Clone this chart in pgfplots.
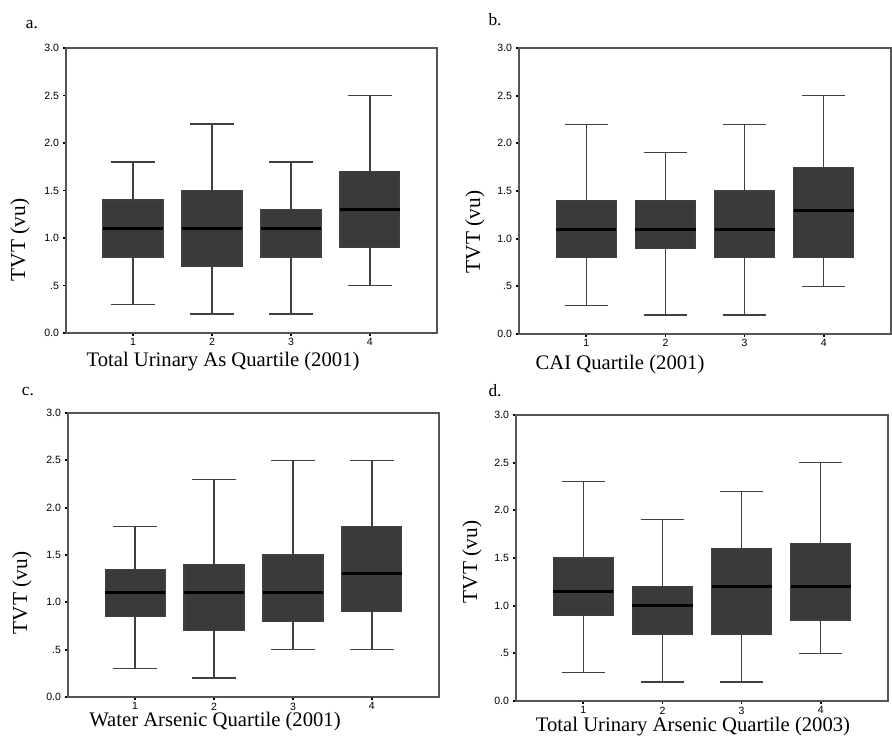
\documentclass[border=0pt]{standalone}
\usepackage{pgfplots}
\pgfplotsset{compat=1.18}
\usepgfplotslibrary{statistics}
\usepackage{fontspec}
\setmainfont{Liberation Serif}
\newfontfamily\tickfont{Liberation Sans}

\definecolor{boxfill}{HTML}{3A3A3A}
\definecolor{frame}{HTML}{555555}

\pgfplotsset{
  panel/.style={
    scale only axis,
    xmin=0.15, xmax=4.85,
    ymin=0, ymax=3,
    xtick={1,2,3,4},
    ytick={0,0.5,1,1.5,2,2.5,3},
    yticklabels={0.0,.5,1.0,1.5,2.0,2.5,3.0},
    xticklabels={1,2,3,4},
    xtick pos=bottom, ytick pos=left,
    tick align=outside,
    major tick length=2.2pt,
    every tick/.style={black, line width=1.3pt},
    tick label style={font=\tickfont\fontsize{7.9}{9}\selectfont},
    xticklabel style={yshift=1.5pt},
    yticklabel style={xshift=0.5pt},
    axis line style={draw=frame, line width=0.8pt},
    boxplot/draw direction=y,
    boxplot/box extend=0.76,
    boxplot/whisker extend=0.55,
    boxplot/every median/.style={black, line width=2.3pt},
  },
  bx/.style={boxplot prepared, draw=black!75, line width=0.9pt, fill=boxfill},
}

\begin{document}
\begin{tikzpicture}
\path[use as bounding box] (0,0) rectangle (669pt,-555.75pt);

% a.
\begin{axis}[panel, at={(49.5pt,-249.75pt)}, anchor=south west, width=278.25pt, height=213.75pt]
\addplot[bx, boxplot prepared={draw position=1, lower whisker=0.3, lower quartile=0.8, median=1.1, upper quartile=1.4, upper whisker=1.8}] coordinates {};
\addplot[bx, boxplot prepared={draw position=2, lower whisker=0.2, lower quartile=0.7, median=1.1, upper quartile=1.5, upper whisker=2.2}] coordinates {};
\addplot[bx, boxplot prepared={draw position=3, lower whisker=0.2, lower quartile=0.8, median=1.1, upper quartile=1.3, upper whisker=1.8}] coordinates {};
\addplot[bx, boxplot prepared={draw position=4, lower whisker=0.5, lower quartile=0.9, median=1.3, upper quartile=1.7, upper whisker=2.5}] coordinates {};
\end{axis}

% b.
\begin{axis}[panel, at={(389.25pt,-250.5pt)}, anchor=south west, width=279pt, height=214.5pt]
\addplot[bx, boxplot prepared={draw position=1, lower whisker=0.3, lower quartile=0.8, median=1.1, upper quartile=1.4, upper whisker=2.2}] coordinates {};
\addplot[bx, boxplot prepared={draw position=2, lower whisker=0.2, lower quartile=0.9, median=1.1, upper quartile=1.4, upper whisker=1.9}] coordinates {};
\addplot[bx, boxplot prepared={draw position=3, lower whisker=0.2, lower quartile=0.8, median=1.1, upper quartile=1.5, upper whisker=2.2}] coordinates {};
\addplot[bx, boxplot prepared={draw position=4, lower whisker=0.5, lower quartile=0.8, median=1.3, upper quartile=1.75, upper whisker=2.5}] coordinates {};
\end{axis}

% c.
\begin{axis}[panel, at={(51pt,-522.75pt)}, anchor=south west, width=278.25pt, height=213pt]
\addplot[bx, boxplot prepared={draw position=1, lower whisker=0.3, lower quartile=0.85, median=1.1, upper quartile=1.35, upper whisker=1.8}] coordinates {};
\addplot[bx, boxplot prepared={draw position=2, lower whisker=0.2, lower quartile=0.7, median=1.1, upper quartile=1.4, upper whisker=2.3}] coordinates {};
\addplot[bx, boxplot prepared={draw position=3, lower whisker=0.5, lower quartile=0.8, median=1.1, upper quartile=1.5, upper whisker=2.5}] coordinates {};
\addplot[bx, boxplot prepared={draw position=4, lower whisker=0.5, lower quartile=0.9, median=1.3, upper quartile=1.8, upper whisker=2.5}] coordinates {};
\end{axis}

% d.
\begin{axis}[panel, at={(387pt,-525.75pt)}, anchor=south west, width=279pt, height=214.5pt]
\addplot[bx, boxplot prepared={draw position=1, lower whisker=0.3, lower quartile=0.9, median=1.15, upper quartile=1.5, upper whisker=2.3}] coordinates {};
\addplot[bx, boxplot prepared={draw position=2, lower whisker=0.2, lower quartile=0.7, median=1.0, upper quartile=1.2, upper whisker=1.9}] coordinates {};
\addplot[bx, boxplot prepared={draw position=3, lower whisker=0.2, lower quartile=0.7, median=1.2, upper quartile=1.6, upper whisker=2.2}] coordinates {};
\addplot[bx, boxplot prepared={draw position=4, lower whisker=0.5, lower quartile=0.85, median=1.2, upper quartile=1.65, upper whisker=2.5}] coordinates {};
\end{axis}

% panel letters
\node[font=\fontsize{13}{15}\selectfont] at (24pt,-18.75pt) {a.};
\node[font=\fontsize{13}{15}\selectfont] at (371.25pt,-15pt) {b.};
\node[font=\fontsize{13}{15}\selectfont] at (21pt,-294pt) {c.};
\node[font=\fontsize{13}{15}\selectfont] at (371.25pt,-293.25pt) {d.};

% y labels
\node[rotate=90, font=\fontsize{16}{18}\selectfont] at (15pt,-180pt) {TVT (vu)};
\node[rotate=90, font=\fontsize{16}{18}\selectfont] at (356.25pt,-174pt) {TVT (vu)};
\node[rotate=90, font=\fontsize{16}{18}\selectfont] at (16.5pt,-444.75pt) {TVT (vu)};
\node[rotate=90, font=\fontsize{16}{18}\selectfont] at (354pt,-421.5pt) {TVT (vu)};

% x labels
\node[font=\fontsize{15.5}{18}\selectfont] at (167.25pt,-271pt) {Total Urinary As Quartile (2001)};
\node[font=\fontsize{15.5}{18}\selectfont] at (465pt,-273.5pt) {CAI Quartile (2001)};
\node[font=\fontsize{15.5}{18}\selectfont] at (161.25pt,-541.5pt) {Water Arsenic Quartile (2001)};
\node[font=\fontsize{15.5}{18}\selectfont] at (519.75pt,-545pt) {Total Urinary Arsenic Quartile (2003)};
\end{tikzpicture}
\end{document}
